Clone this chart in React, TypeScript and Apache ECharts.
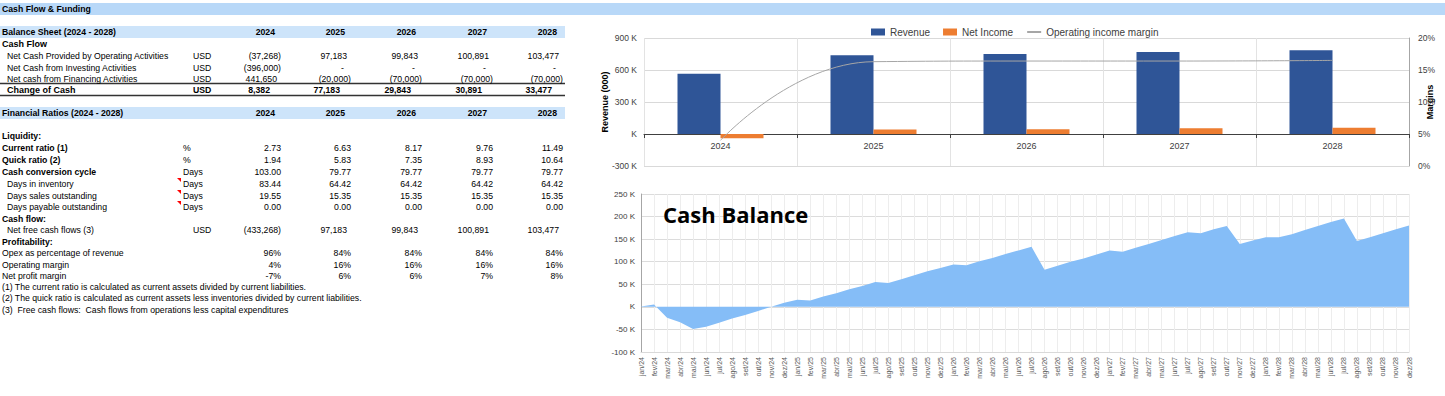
import React, { useEffect, useRef } from 'react';
import * as echarts from 'echarts';

// ---------- Data ----------
const years = ['2024', '2025', '2026', '2027', '2028'];
const revenue = [565, 738, 750, 769, 785];
const netIncome = [-40, 43, 45, 54, 59];
const operatingIncomeMargin = [4.0, 16.3, 16.4, 16.4, 16.5];
const revenueTicks = { min: -300, max: 900, interval: 300 };
const marginTicks = { min: 0, max: 20, interval: 5 };

const monthNames = ['jan', 'fev', 'mar', 'abr', 'mai', 'jun', 'jul', 'ago', 'set', 'out', 'nov', 'dez'];
const yearSuffixes = ['24', '25', '26', '27', '28'];
const monthLabels = yearSuffixes.flatMap((y) => monthNames.map((m) => `${m}/${y}`));
const cashBalance = [
  1, 5, -24, -34, -49, -44, -35, -26, -18, -9, 0, 9,
  15.5, 14, 23, 30, 39, 46, 55, 53, 61, 70, 79, 86,
  94, 92, 101, 108, 117, 125, 133, 82, 91, 100, 107, 116,
  125, 122, 131, 139, 148, 157, 165, 163, 172, 179, 139, 147,
  154, 154, 161, 170, 179, 188, 196, 146, 154, 163, 172, 180,
];
const cashTicks = { min: -100, max: 250, interval: 50 };

const opCash = [-37268, 97183, 99843, 100891, 103477];
const investingCash = [-396000, 0, 0, 0, 0];
const financingCash = [441650, -20000, -70000, -70000, -70000];
const changeOfCash = [8382, 77183, 29843, 30891, 33477];
const currentRatio = [2.73, 6.63, 8.17, 9.76, 11.49];
const quickRatio = [1.94, 5.83, 7.35, 8.93, 10.64];
const cashConversionCycle = [103.0, 79.77, 79.77, 79.77, 79.77];
const daysInventory = [83.44, 64.42, 64.42, 64.42, 64.42];
const daysSales = [19.55, 15.35, 15.35, 15.35, 15.35];
const daysPayable = [0, 0, 0, 0, 0];
const netFreeCashFlows = [-433268, 97183, 99843, 100891, 103477];
const opexPct = [96, 84, 84, 84, 84];
const operatingMarginPct = [4, 16, 16, 16, 16];
const netProfitMarginPct = [-7, 6, 6, 7, 8];
const footnotes = [
  '(1) The current ratio is calculated as current assets divided by current liabilities.',
  '(2) The quick ratio is calculated as current assets less inventories divided by current liabilities.',
  '(3)  Free cash flows:  Cash flows from operations less capital expenditures',
];

// ---------- Layout helpers ----------
const FONT = '"Liberation Sans", Arial, sans-serif';
const FS = 8.7;
const colR = [281, 351, 422, 493, 563];

type TOpt = { bold?: boolean; align?: string; size?: number; fill?: string; family?: string };
function T(x: number, y: number, text: string, o: TOpt = {}) {
  return {
    type: 'text',
    x,
    y,
    z: 100,
    silent: true,
    style: {
      text,
      fill: o.fill || '#000',
      fontSize: o.size || FS,
      fontFamily: o.family || FONT,
      fontWeight: o.bold ? 'bold' : 'normal',
      textAlign: o.align || 'left',
      textVerticalAlign: 'middle',
      align: o.align || 'left',
      verticalAlign: 'middle',
    },
  };
}
const fmtInt = (v: number) => Math.abs(v).toLocaleString('en-US');
function accCells(vals: number[], y: number) {
  return vals.map((v, i) => {
    if (v < 0) return T(colR[i], y, `(${fmtInt(v)})`, { align: 'right' });
    if (v === 0) return T(colR[i] - 7, y, '-', { align: 'right' });
    return T(colR[i] - 4, y, fmtInt(v), { align: 'right' });
  });
}
function numCells(vals: number[], y: number, fmt: (v: number) => string) {
  return vals.map((v, i) => T(colR[i], y, fmt(v), { align: 'right' }));
}
const f2 = (v: number) => v.toFixed(2);
const pct = (v: number) => `${v}%`;
function redMark(y: number) {
  return {
    type: 'polygon',
    silent: true,
    z: 100,
    shape: { points: [[177, y - 6], [181, y - 6], [181, y - 2]] },
    style: { fill: '#FF0000' },
  };
}

function buildTable() {
  const els: any[] = [];
  els.push({ type: 'rect', silent: true, z: 90, shape: { x: 0, y: 3, width: 1445, height: 12 }, style: { fill: '#B8D8F8' } });
  els.push({ type: 'rect', silent: true, z: 90, shape: { x: 0, y: 26, width: 565, height: 12 }, style: { fill: '#CDE4FA' } });
  els.push({ type: 'rect', silent: true, z: 90, shape: { x: 0, y: 107, width: 565, height: 12 }, style: { fill: '#CDE4FA' } });
  els.push({ type: 'line', silent: true, z: 90, shape: { x1: 0, y1: 83.5, x2: 565, y2: 83.5 }, style: { stroke: '#333', lineWidth: 1.3 } });
  els.push({ type: 'line', silent: true, z: 90, shape: { x1: 0, y1: 95.5, x2: 565, y2: 95.5 }, style: { stroke: '#333', lineWidth: 1.3 } });

  els.push(T(2, 9, 'Cash Flow & Funding', { bold: true }));
  els.push(T(2, 32, 'Balance Sheet (2024 - 2028)', { bold: true }));
  years.forEach((y, i) => els.push(T(colR[i] - 6, 32, y, { bold: true, align: 'right' })));
  els.push(T(2, 44, 'Cash Flow', { bold: true, size: 9 }));
  els.push(T(7, 56, 'Net Cash Provided by Operating Activities'));
  els.push(T(193, 56, 'USD'));
  els.push(...accCells(opCash, 56));
  els.push(T(7, 68, 'Net Cash from Investing Activities'));
  els.push(T(193, 68, 'USD'));
  els.push(...accCells(investingCash, 68));
  els.push(T(7, 79, 'Net cash from Financing Activities'));
  els.push(T(193, 79, 'USD'));
  els.push(...accCells(financingCash, 79));
  els.push(T(7, 90, 'Change of Cash', { bold: true, size: 9 }));
  els.push(T(193, 90, 'USD', { bold: true }));
  changeOfCash.forEach((v, i) => els.push(T(colR[i] - 11, 90, fmtInt(v), { bold: true, align: 'right' })));

  els.push(T(2, 113, 'Financial Ratios (2024 - 2028)', { bold: true }));
  years.forEach((y, i) => els.push(T(colR[i] - 6, 113, y, { bold: true, align: 'right' })));
  els.push(T(2, 136, 'Liquidity:', { bold: true }));
  els.push(T(2, 148, 'Current ratio (1)', { bold: true }));
  els.push(T(183, 148, '%'));
  els.push(...numCells(currentRatio, 148, f2));
  els.push(T(2, 160, 'Quick ratio (2)', { bold: true }));
  els.push(T(183, 160, '%'));
  els.push(...numCells(quickRatio, 160, f2));
  els.push(T(2, 172, 'Cash conversion cycle', { bold: true }));
  els.push(T(183, 172, 'Days'));
  els.push(...numCells(cashConversionCycle, 172, f2));
  els.push(T(7, 184, 'Days in inventory'));
  els.push(redMark(184));
  els.push(T(183, 184, 'Days'));
  els.push(...numCells(daysInventory, 184, f2));
  els.push(T(7, 196, 'Days sales outstanding'));
  els.push(redMark(196));
  els.push(T(183, 196, 'Days'));
  els.push(...numCells(daysSales, 196, f2));
  els.push(T(7, 207, 'Days payable outstanding'));
  els.push(redMark(207));
  els.push(T(183, 207, 'Days'));
  els.push(...numCells(daysPayable, 207, f2));
  els.push(T(2, 219, 'Cash flow:', { bold: true }));
  els.push(T(7, 230, 'Net free cash flows (3)'));
  els.push(T(193, 230, 'USD'));
  els.push(...accCells(netFreeCashFlows, 230));
  els.push(T(2, 242, 'Profitability:', { bold: true }));
  els.push(T(2, 253, 'Opex as percentage of revenue'));
  els.push(...numCells(opexPct, 253, pct));
  els.push(T(2, 265, 'Operating margin'));
  els.push(...numCells(operatingMarginPct, 265, pct));
  els.push(T(2, 276, 'Net profit margin'));
  els.push(...numCells(netProfitMarginPct, 276, pct));
  footnotes.forEach((f, i) => els.push(T(2, [287, 298, 310][i], f)));

  els.push(T(663, 214, 'Cash Balance', { bold: true, size: 22, family: '"Open Sans", "DejaVu Sans", sans-serif' }));
  return els;
}

const kFmt = (v: number) => (v === 0 ? 'K' : `${v} K`);

export default function App() {
  const ref = useRef<HTMLDivElement>(null);
  useEffect(() => {
    if (!ref.current) return;
    const chart = echarts.init(ref.current, undefined, { renderer: 'svg' });
    const axisText = { fontFamily: FONT, color: '#404040' };
    chart.setOption({
      animation: false,
      textStyle: { fontFamily: FONT },
      grid: [
        { left: 644, top: 38, width: 765, height: 128, containLabel: false },
        { left: 641, top: 194, width: 768, height: 158, containLabel: false },
      ],
      legend: {
        data: [
          { name: 'Revenue', icon: 'rect' },
          { name: 'Net Income', icon: 'rect' },
          { name: 'Operating income margin', itemStyle: { opacity: 0 } },
        ],
        left: 871,
        top: 27,
        padding: 0,
        itemWidth: 14,
        itemHeight: 7,
        itemGap: 13,
        textStyle: { fontSize: 10, color: '#404040', fontFamily: FONT },
      },
      xAxis: [
        {
          type: 'category',
          gridIndex: 0,
          data: years,
          position: 'bottom',
          offset: -32,
          axisLine: { onZero: false, lineStyle: { color: '#404040', width: 1 } },
          axisTick: { show: true, length: 4, lineStyle: { color: '#404040' } },
          axisLabel: { ...axisText, fontSize: 9, margin: 7 },
          splitLine: { show: true, lineStyle: { color: '#E3E3E3' } },
        },
        {
          type: 'category',
          gridIndex: 1,
          data: monthLabels,
          boundaryGap: false,
          axisLine: { onZero: false, lineStyle: { color: '#D9D9D9' } },
          axisTick: { show: false },
          axisLabel: { ...axisText, color: '#595959', fontSize: 7, rotate: 90, interval: 0, margin: 5 },
          splitLine: { show: true, interval: 0, lineStyle: { color: '#EDEDED' } },
        },
      ],
      yAxis: [
        {
          type: 'value',
          gridIndex: 0,
          ...revenueTicks,
          axisLine: { show: false },
          axisTick: { show: false },
          axisLabel: { ...axisText, fontSize: 8.5, margin: 7, formatter: kFmt },
          splitLine: { lineStyle: { color: '#D9D9D9' } },
          name: 'Revenue (000)',
          nameLocation: 'middle',
          nameRotate: 90,
          nameGap: 35,
          nameMoveOverlap: false,
          nameTextStyle: { fontSize: 9, fontWeight: 'bold', color: '#000', fontFamily: FONT },
        },
        {
          type: 'value',
          gridIndex: 0,
          position: 'right',
          ...marginTicks,
          axisLine: { show: true, lineStyle: { color: '#A6A6A6' } },
          axisTick: { show: false },
          axisLabel: { ...axisText, fontSize: 8.5, margin: 9, formatter: '{value}%' },
          splitLine: { show: false },
          name: 'Margins',
          nameLocation: 'middle',
          nameRotate: 90,
          nameGap: 16,
          nameMoveOverlap: false,
          nameTextStyle: { fontSize: 9, fontWeight: 'bold', color: '#000', fontFamily: FONT },
        },
        {
          type: 'value',
          gridIndex: 1,
          ...cashTicks,
          axisLine: { show: true, lineStyle: { color: '#A6A6A6' } },
          axisTick: { show: false },
          axisLabel: { ...axisText, fontSize: 8, margin: 6, formatter: kFmt },
          splitLine: { lineStyle: { color: '#DCDCDC' } },
        },
      ],
      series: [
        {
          type: 'bar',
          name: 'Revenue',
          xAxisIndex: 0,
          yAxisIndex: 0,
          data: revenue,
          barWidth: 43,
          barGap: '0%',
          itemStyle: { color: '#2F5597' },
        },
        {
          type: 'bar',
          name: 'Net Income',
          xAxisIndex: 0,
          yAxisIndex: 0,
          data: netIncome,
          barWidth: 43,
          barGap: '0%',
          itemStyle: { color: '#ED7D31' },
        },
        {
          type: 'line',
          name: 'Operating income margin',
          xAxisIndex: 0,
          yAxisIndex: 1,
          data: operatingIncomeMargin,
          smooth: 0.5,
          symbol: 'none',
          lineStyle: { color: '#A6A6A6', width: 1 },
          itemStyle: { color: '#A6A6A6' },
        },
        {
          type: 'line',
          name: 'Cash Balance',
          xAxisIndex: 1,
          yAxisIndex: 2,
          data: cashBalance,
          symbol: 'none',
          lineStyle: { width: 0, color: '#85BDF7' },
          itemStyle: { color: '#85BDF7' },
          areaStyle: { color: '#85BDF7', opacity: 1 },
        },
      ],
      graphic: { elements: buildTable() },
    });
    return () => chart.dispose();
  }, []);
  return (
    <div
      ref={ref}
      style={{ position: 'absolute', left: 0, top: 0, width: 1445, height: 396, background: '#fff' }}
    />
  );
}
